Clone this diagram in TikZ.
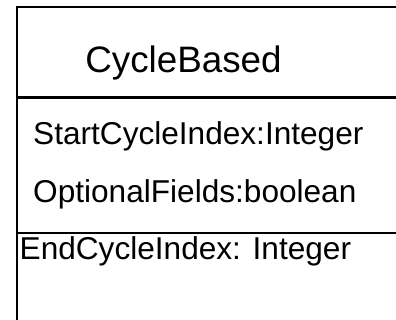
\documentclass[tikz,border=0pt]{standalone}
\usepackage{fontspec}
\setmainfont{Liberation Sans}
\begin{document}
\begin{tikzpicture}[x=1bp,y=-1bp,
  edge/.style={line width=2.2bp,black},
  attr/.style={anchor=base west,inner sep=0pt,font=\fontsize{31.6bp}{36bp}\selectfont},
  title/.style={anchor=base,inner sep=0pt,font=\fontsize{36.8bp}{42bp}\selectfont}]
\useasboundingbox (0,0) rectangle (396,320);
\coordinate (tl) at (17,7);
\coordinate (tr) at (397,7);
\coordinate (bl) at (17,321);
\coordinate (d1l) at (17,97.5);
\coordinate (d1r) at (397,97.5);
\coordinate (d2l) at (17,233);
\coordinate (d2r) at (397,233);
\draw[edge] (tr) -- (tl) -- (bl);
\draw[edge] (d1l) -- (d1r);
\draw[edge] (d2l) -- (d2r);
\node[title] (name) at (183.5,72.5) {CycleBased};
\node[attr] (a1) at (33,144.5) {StartCycleIndex:Integer};
\node[attr] (a2) at (33,202) {OptionalFields:boolean};
\node[attr] (a3) at (19.5,259) {EndCycleIndex: Integer};
\end{tikzpicture}
\end{document}
